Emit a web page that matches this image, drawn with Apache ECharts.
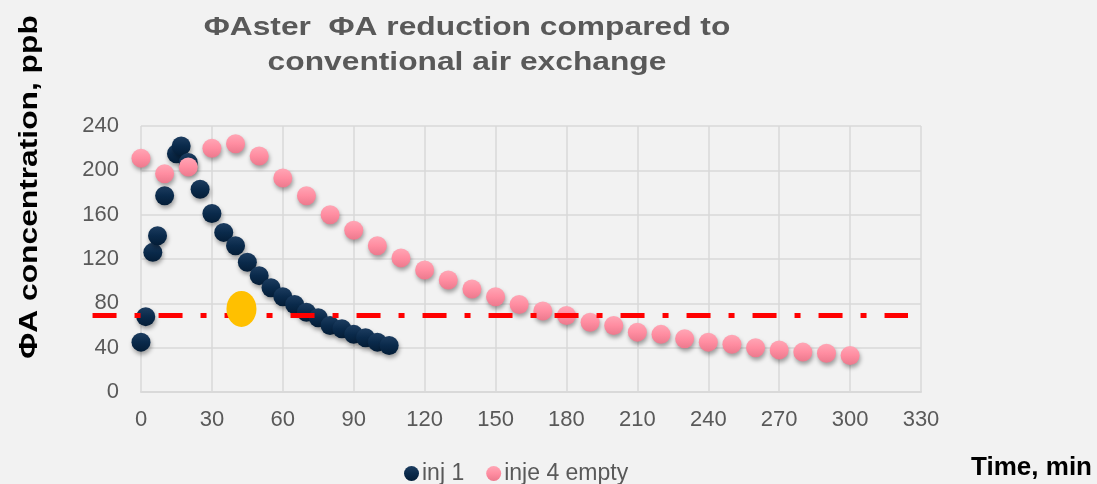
<!DOCTYPE html>
<html>
<head>
<meta charset="utf-8">
<script src="https://cdn.jsdelivr.net/npm/echarts@6/dist/echarts.min.js"></script>
<style>
html,body{margin:0;padding:0;background:#F2F2F2;}
#chart{width:1097px;height:484px;}
</style>
</head>
<body>
<div id="chart"></div>
<script>
// ---- data ----
var titleText = 'ΦAster  ΦA reduction compared to\nconventional air exchange';
var yAxisTitle = 'ΦA concentration, ppb';
var xAxisTitle = 'Time, min';
var seriesNames = ['inj 1', 'inje 4 empty'];

var inj1X = [0, 2, 5, 7, 10, 15, 17, 20, 25, 30, 35, 40, 45, 50, 55, 60, 65, 70, 75, 80, 85, 90, 95, 100, 105];
var inj1Y = [45, 68, 126, 141, 177, 215, 222, 207, 183, 161, 144, 132, 117, 105, 94, 86, 79, 72, 67, 60, 57, 52, 49, 45, 42];

var inje4X = [0, 10, 20, 30, 40, 50, 60, 70, 80, 90, 100, 110, 120, 130, 140, 150, 160, 170, 180, 190, 200, 210, 220, 230, 240, 250, 260, 270, 280, 290, 300];
var inje4Y = [211, 197, 203, 220, 224, 213, 193, 177, 160, 146, 132, 121, 110, 101, 93, 86, 79, 73, 69, 63, 60, 54, 52, 48, 45, 43, 40, 38, 36, 35, 33];

var limitX = [-20.5, 324.5];
var limitY = [69, 69];

var markerX = [42.5];
var markerY = [75];

function pairs(xs, ys) { return xs.map(function (x, i) { return [x, ys[i]]; }); }

var FONT = "'Liberation Sans', Arial, sans-serif";
var chart = echarts.init(document.getElementById('chart'), null, {renderer: 'canvas'});

var shadow = {opacity: 1, shadowBlur: 4, shadowOffsetX: 1, shadowOffsetY: 3, shadowColor: 'rgba(0,0,0,0.35)'};

chart.setOption({
  backgroundColor: '#F2F2F2',
  animation: false,
  grid: {left: 141, right: 176, top: 126, bottom: 92, containLabel: false},
  xAxis: {
    type: 'value', min: 0, max: 330, interval: 30,
    axisLine: {show: true, lineStyle: {color: '#D9D9D9', width: 2}},
    axisTick: {show: false},
    axisLabel: {color: '#595959', fontSize: 22, fontFamily: FONT, margin: 17},
    splitLine: {show: true, lineStyle: {color: '#D9D9D9', width: 1.5}}
  },
  yAxis: {
    type: 'value', min: 0, max: 240, interval: 40,
    axisLine: {show: false},
    axisTick: {show: false},
    axisLabel: {color: '#595959', fontSize: 22, fontFamily: FONT, margin: 22},
    splitLine: {show: true, lineStyle: {color: '#D9D9D9', width: 1.5}}
  },
  legend: {
    data: seriesNames,
    left: 399, top: 457,
    icon: 'circle', itemWidth: 15, itemHeight: 16, itemGap: 22,
    textStyle: {color: '#595959', fontSize: 23, fontFamily: FONT, padding: [0, 0, 0, -2]}
  },
  series: [
    {
      name: seriesNames[0], type: 'scatter', symbol: 'circle', symbolSize: 19, z: 2,
      data: pairs(inj1X, inj1Y),
      itemStyle: Object.assign({
        color: new echarts.graphic.LinearGradient(0, 0, 0, 1, [
          {offset: 0, color: '#1D3D60'}, {offset: 0.5, color: '#0A2A4B'}, {offset: 1, color: '#041D37'}])
      }, shadow)
    },
    {
      name: seriesNames[1], type: 'scatter', symbol: 'circle', symbolSize: 19, z: 3,
      data: pairs(inje4X, inje4Y),
      itemStyle: Object.assign({
        color: new echarts.graphic.LinearGradient(0, 0, 0, 1, [
          {offset: 0, color: '#FFA6B5'}, {offset: 0.5, color: '#FF8DA1'}, {offset: 1, color: '#EC798D'}])
      }, shadow)
    },
    {
      name: 'marker', type: 'scatter', z: 5, symbol: 'circle', symbolSize: [30, 36], silent: true,
      data: pairs(markerX, markerY),
      itemStyle: {color: '#FFC000', opacity: 1}
    }
  ]
});

// threshold line placed through the chart's own coordinate system (extends past the axis like the original)
var limitPts = pairs(limitX, limitY).map(function (p) {
  return chart.convertToPixel({xAxisIndex: 0, yAxisIndex: 0}, p);
});

chart.setOption({
  graphic: [
    {
      id: 'title', type: 'text', x: 467, y: 11, scaleX: 1.27, z: 10,
      style: {text: titleText, font: "bold 25px 'Liberation Sans', Arial, sans-serif", fill: '#595959', align: 'center', verticalAlign: 'top', lineHeight: 35}
    },
    {
      id: 'yname', type: 'text', x: 30, y: 187, rotation: Math.PI / 2, scaleX: 1.27, z: 10,
      style: {text: yAxisTitle, font: "bold 25px 'Liberation Sans', Arial, sans-serif", fill: '#000000', align: 'center', verticalAlign: 'middle'}
    },
    {
      id: 'xname', type: 'text', x: 1092, y: 468, z: 10,
      style: {text: xAxisTitle, font: "bold 26px 'Liberation Sans', Arial, sans-serif", fill: '#000000', align: 'right', verticalAlign: 'middle'}
    },
    {
      id: 'limit', type: 'polyline', z: 4, silent: true,
      shape: {points: limitPts},
      style: {stroke: '#FF0000', lineWidth: 5, lineDash: [24, 18, 6, 18], lineCap: 'butt', fill: null}
    }
  ]
});
</script>
</body>
</html>
